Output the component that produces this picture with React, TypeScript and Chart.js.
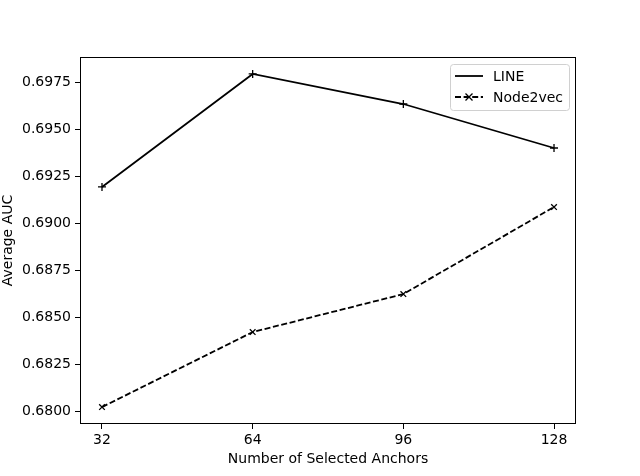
import React, { useEffect, useRef } from "react";
import { Chart, registerables } from "chart.js";

Chart.register(...registerables);

const anchors = [32, 64, 96, 128];
const lineAUC = [0.69192, 0.69793, 0.69633, 0.69399];
const node2vecAUC = [0.68021, 0.6842, 0.68622, 0.69085];
const yTicks = [0.68, 0.6825, 0.685, 0.6875, 0.69, 0.6925, 0.695, 0.6975];
const xTicks = [32, 64, 96, 128];

const FONT = "'DejaVu Sans', sans-serif";
const FS = 14;

const framePlugin = {
  id: "frame",
  afterDatasetsDraw(chart: any) {
    const { ctx, chartArea: a } = chart;
    ctx.save();
    ctx.strokeStyle = "#000";
    ctx.lineWidth = 1;
    ctx.strokeRect(a.left + 0.5, a.top + 0.5, a.right - a.left - 1, a.bottom - a.top - 1);
    // legend
    const x0 = a.right - 126, y0 = a.top + 7, w = 119, h = 46;
    ctx.fillStyle = "rgba(255,255,255,0.8)";
    ctx.strokeStyle = "#d0d0d0";
    ctx.beginPath();
    (ctx as any).roundRect(x0 + 0.5, y0 + 0.5, w, h, 3);
    ctx.fill();
    ctx.stroke();
    ctx.strokeStyle = "#000";
    ctx.lineWidth = 1.8;
    const ly1 = y0 + 12, ly2 = y0 + 33;
    ctx.beginPath();
    ctx.moveTo(x0 + 5, ly1);
    ctx.lineTo(x0 + 33, ly1);
    ctx.stroke();
    ctx.setLineDash([6, 2.6]);
    ctx.beginPath();
    ctx.moveTo(x0 + 5, ly2);
    ctx.lineTo(x0 + 33, ly2);
    ctx.stroke();
    ctx.setLineDash([]);
    ctx.lineWidth = 1.3;
    const cx = x0 + 19, r = 3.5;
    ctx.beginPath();
    ctx.moveTo(cx - r, ly2 - r);
    ctx.lineTo(cx + r, ly2 + r);
    ctx.moveTo(cx + r, ly2 - r);
    ctx.lineTo(cx - r, ly2 + r);
    ctx.stroke();
    ctx.fillStyle = "#000";
    ctx.font = `${FS}px ${FONT}`;
    ctx.textBaseline = "middle";
    ctx.fillText("LINE", x0 + 43, ly1 + 1);
    ctx.fillText("Node2vec", x0 + 43, ly2 + 1);
    ctx.restore();
  },
};

export default function App() {
  const ref = useRef<HTMLCanvasElement>(null);
  useEffect(() => {
    document.body.style.margin = "0";
    const chart = new Chart(ref.current!, {
      type: "line",
      data: {
        datasets: [
          {
            label: "LINE",
            data: anchors.map((x, i) => ({ x, y: lineAUC[i] })),
            borderColor: "#000",
            backgroundColor: "#000",
            borderWidth: 1.8,
            pointStyle: "cross",
            pointRadius: 4,
            pointBorderWidth: 1.3,
            fill: false,
          },
          {
            label: "Node2vec",
            data: anchors.map((x, i) => ({ x, y: node2vecAUC[i] })),
            borderColor: "#000",
            backgroundColor: "#000",
            borderWidth: 1.8,
            borderDash: [6, 2.6],
            pointStyle: "crossRot",
            pointRadius: 4,
            pointBorderWidth: 1.3,
            fill: false,
          },
        ],
      },
      options: {
        animation: false,
        responsive: false,
        layout: { padding: { left: 0, top: 57, right: 64, bottom: 8 } },
        plugins: { legend: { display: false }, tooltip: { enabled: false } },
        scales: {
          x: {
            type: "linear",
            min: 27.33,
            max: 132.67,
            afterBuildTicks: (s: any) => {
              s.ticks = xTicks.map((v) => ({ value: v }));
            },
            afterFit: (s: any) => {
              s.height = 44;
            },
            grid: { drawOnChartArea: false, tickLength: 5, color: "#000", tickWidth: 1 },
            border: { display: false },
            ticks: { color: "#000", font: { family: FONT, size: FS }, padding: 3, maxRotation: 0 },
            title: {
              display: true,
              text: "Number of Selected Anchors",
              color: "#000",
              font: { family: FONT, size: FS },
              padding: { top: 2, bottom: 0 },
            },
          },
          y: {
            type: "linear",
            min: 0.67931,
            max: 0.69883,
            afterBuildTicks: (s: any) => {
              s.ticks = yTicks.map((v) => ({ value: v }));
            },
            afterFit: (s: any) => {
              s.width = 80;
            },
            grid: { drawOnChartArea: false, tickLength: 5, color: "#000", tickWidth: 1 },
            border: { display: false },
            ticks: {
              color: "#000",
              font: { family: FONT, size: FS },
              padding: 4,
              callback: (v: any) => Number(v).toFixed(4),
            },
            title: {
              display: true,
              text: "Average AUC",
              color: "#000",
              font: { family: FONT, size: FS },
              padding: { top: 0, bottom: 2 },
            },
          },
        },
      },
      plugins: [framePlugin],
    });
    return () => chart.destroy();
  }, []);
  return <canvas ref={ref} width={640} height={476} style={{ display: "block" }} />;
}
